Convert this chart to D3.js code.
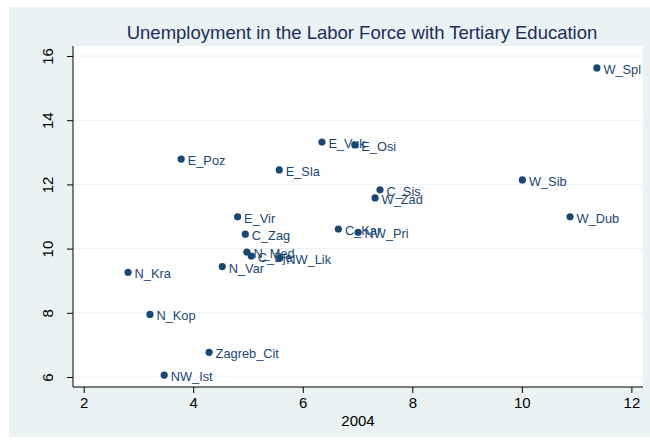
<!DOCTYPE html>
<html><head><meta charset="utf-8">
<script src="https://cdn.jsdelivr.net/npm/d3@7"></script>
<style>body{margin:0;background:#fff;font-family:Arial,"Liberation Sans",sans-serif;}</style>
</head><body><svg id="c" width="650" height="443"></svg>
<script>
const names = ["W_Spl","E_Vuk","E_Osi","E_Poz","E_Sla","W_Sib","C_Sis","W_Zad","W_Dub","E_Vir","C_Kar","NW_Pri","C_Zag","N_Med","C_Bje","NW_Lik","N_Var","N_Kra","N_Kop","Zagreb_Cit","NW_Ist"];
const xVals = [11.37,6.35,6.95,3.78,5.57,10.01,7.41,7.32,10.88,4.81,6.65,7.01,4.95,4.98,5.06,5.58,4.53,2.81,3.21,4.29,3.47];
const yVals = [15.63,13.32,13.23,12.79,12.45,12.14,11.83,11.58,10.99,10.99,10.61,10.51,10.45,9.89,9.77,9.71,9.44,9.26,7.95,6.77,6.06];
const xTicks = [2,4,6,8,10,12];
const yTicks = [6,8,10,12,14,16];
const title = "Unemployment in the Labor Force with Tertiary Education";
const xTitle = "2004";

const svg = d3.select("#c");
const navy = "#1a476f";
const P = {l:73, r:643, t:46, b:387};

svg.append("rect").attr("x",9).attr("y",7).attr("width",641).attr("height",430).attr("fill","#eaf2f3");
svg.append("rect").attr("x",P.l).attr("y",P.t).attr("width",P.r-P.l).attr("height",P.b-P.t).attr("fill","#fff");

const x = d3.scaleLinear().domain([2,12]).range([83.7,631.4]);
const y = d3.scaleLinear().domain([6,16]).range([377,56]);

// gridlines
svg.append("g").selectAll("line").data(yTicks).join("line")
  .attr("x1",P.l).attr("x2",P.r).attr("y1",d=>y(d)).attr("y2",d=>y(d))
  .attr("stroke","#eaf2f3").attr("stroke-width",1);

svg.append("clipPath").attr("id","pc").append("rect")
  .attr("x",P.l).attr("y",P.t).attr("width",P.r-P.l).attr("height",P.b-P.t);

const data = names.map((n,i)=>({n, x:xVals[i], y:yVals[i]}));
const g = svg.append("g").attr("clip-path","url(#pc)");
g.selectAll("circle").data(data).join("circle")
  .attr("cx",d=>x(d.x)).attr("cy",d=>y(d.y)).attr("r",3.6).attr("fill",navy);
g.selectAll("text").data(data).join("text")
  .attr("x",d=>x(d.x)+6.5).attr("y",d=>y(d.y)+1.5).attr("dy","0.35em")
  .attr("fill",navy).attr("font-size","12.8px").text(d=>d.n);

// axes
const xa = svg.append("g").attr("transform",`translate(0,${P.b})`)
  .call(d3.axisBottom(x).tickValues(xTicks).tickSize(6).tickPadding(4).tickFormat(d3.format("d")));
xa.select(".domain").remove();
xa.append("line").attr("x1",P.l).attr("x2",P.r).attr("stroke","#000");
xa.selectAll("text").attr("font-size","15px").attr("fill","#000").attr("font-family","Arial,Liberation Sans,sans-serif");

const ya = svg.append("g").attr("transform",`translate(${P.l},0)`)
  .call(d3.axisLeft(y).tickValues(yTicks).tickSize(6).tickFormat(d3.format("d")));
ya.select(".domain").remove();
ya.append("line").attr("y1",P.t).attr("y2",P.b).attr("stroke","#000");
ya.selectAll(".tick text").attr("font-size","15px").attr("fill","#000")
  .attr("font-family","Arial,Liberation Sans,sans-serif")
  .attr("transform","rotate(-90)").attr("x",0).attr("y",-20).attr("dy","0").attr("text-anchor","middle");

svg.append("text").attr("x",(P.l+P.r)/2).attr("y",426).attr("text-anchor","middle")
  .attr("font-size","15px").attr("fill","#000").text(xTitle);
svg.append("text").attr("x",362).attr("y",39).attr("text-anchor","middle")
  .attr("font-size","18.5px").attr("fill","#1c2d5a").text(title);
</script></body></html>
